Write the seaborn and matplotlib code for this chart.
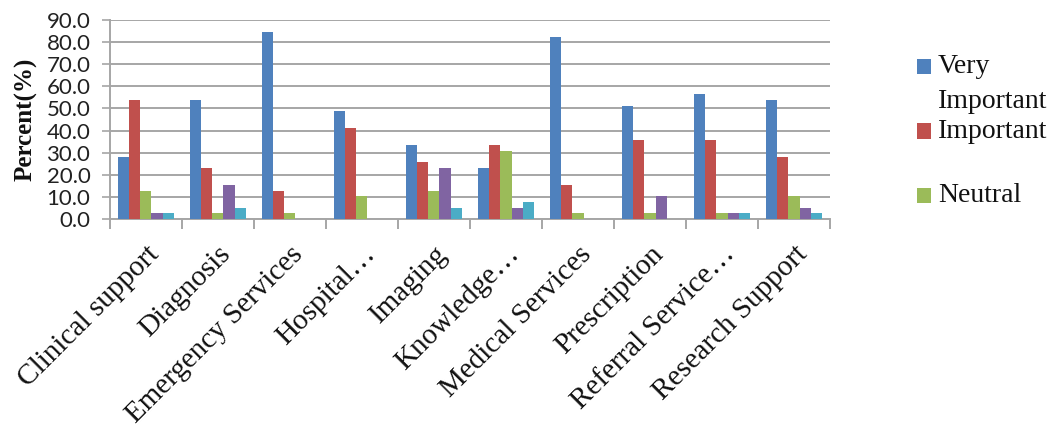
import numpy as np
import pandas as pd
import matplotlib
matplotlib.use("Agg")
import matplotlib.pyplot as plt
import matplotlib.patches as mpatches
from matplotlib.legend_handler import HandlerPatch
import seaborn as sns

# ---- data ----
categories = ["Clinical support", "Diagnosis", "Emergency Services", "Hospital…",
              "Imaging", "Knowledge…", "Medical Services", "Prescription",
              "Referral Service…", "Research Support"]
series = ["Very Important", "Important", "Neutral", "Less Important", "Not Important"]
very_important = [28.2, 53.8, 84.6, 48.7, 33.3, 23.1, 82.1, 51.3, 56.4, 53.8]
important      = [53.8, 23.1, 12.8, 41.0, 25.6, 33.3, 15.4, 35.9, 35.9, 28.2]
neutral        = [12.8, 2.6, 2.6, 10.3, 12.8, 30.8, 2.6, 2.6, 2.6, 10.3]
less_important = [2.6, 15.4, 0.0, 0.0, 23.1, 5.1, 0.0, 10.3, 2.6, 5.1]
not_important  = [2.6, 5.1, 0.0, 0.0, 5.1, 7.7, 0.0, 0.0, 2.6, 2.6]
legend_labels = ["Very\nImportant", "Important\n", "Neutral\n"]
yticks = [0, 10, 20, 30, 40, 50, 60, 70, 80, 90]

colors = ["#4F81BD", "#C0504D", "#9BBB59", "#8064A2", "#4BACC6"]

values = [very_important, important, neutral, less_important, not_important]
df = pd.DataFrame({
    "Category": np.tile(categories, len(series)),
    "Series": np.repeat(series, len(categories)),
    "Percent": np.concatenate(values),
})

sns.set_theme(style="white")
plt.rcParams["font.family"] = ["Liberation Serif", "DejaVu Serif"]

fig = plt.figure(figsize=(10.56, 4.32), dpi=100)
ax = fig.add_axes([0.104, 0.493, 0.682, 0.461])

sns.barplot(data=df, x="Category", y="Percent", hue="Series",
            order=categories, hue_order=series, palette=colors,
            width=0.775, saturation=1, ax=ax, legend=False,
            edgecolor="none", errorbar=None, zorder=3)

ax.set_ylim(0, 90)
ax.set_xlim(-0.5, len(categories) - 0.5)
ax.set_yticks(yticks)
ax.set_yticklabels([f"{v:.1f}" for v in yticks], family=["Lato", "DejaVu Sans"],
                   fontsize=16, color="#222222")
ax.yaxis.grid(True, color="#A6A6A6", linewidth=1.4, zorder=0)
ax.xaxis.grid(False)
ax.set_axisbelow(True)

for s in ["top", "right"]:
    ax.spines[s].set_visible(False)
for s in ["left", "bottom"]:
    ax.spines[s].set_color("#A6A6A6")
    ax.spines[s].set_linewidth(1.4)

ax.tick_params(axis="y", which="major", left=True, length=6, width=1.2,
               color="#A6A6A6", pad=8)
ax.set_xticks(range(len(categories)))
ax.set_xticklabels(categories, rotation=45, ha="right", rotation_mode="anchor",
                   fontsize=21, color="#111111")
ax.tick_params(axis="x", which="major", bottom=False, length=0, pad=16)
ax.set_xticks(np.arange(-0.5, len(categories), 1.0), minor=True)
ax.tick_params(axis="x", which="minor", bottom=True, length=7, width=1.4,
               color="#A6A6A6")

ax.set_xlabel("")
ax.set_ylabel("Percent(%)", fontsize=18, fontweight="bold", color="#111111",
              labelpad=6)


class UpHandler(HandlerPatch):
    def __init__(self, shift):
        super().__init__()
        self.shift = shift

    def create_artists(self, legend, orig_handle, xdescent, ydescent, width,
                       height, fontsize, trans):
        p = mpatches.Rectangle((-xdescent, -ydescent + self.shift * fontsize),
                               width, height,
                               facecolor=orig_handle.get_facecolor(),
                               edgecolor="none", transform=trans)
        return [p]


handles = [mpatches.Patch(facecolor=c) for c in colors[:3]]
leg = fig.legend(handles, legend_labels, loc="upper left",
                 bbox_to_anchor=(0.858, 0.90), frameon=False, fontsize=20,
                 handlelength=0.5, handleheight=0.5, handletextpad=0.25,
                 labelspacing=0.18, borderaxespad=0,
                 handler_map={mpatches.Patch: UpHandler(0.62)})
for t in leg.get_texts():
    t.set_linespacing(1.5)
    t.set_color("#111111")

fig.savefig("out.png", dpi=100)
